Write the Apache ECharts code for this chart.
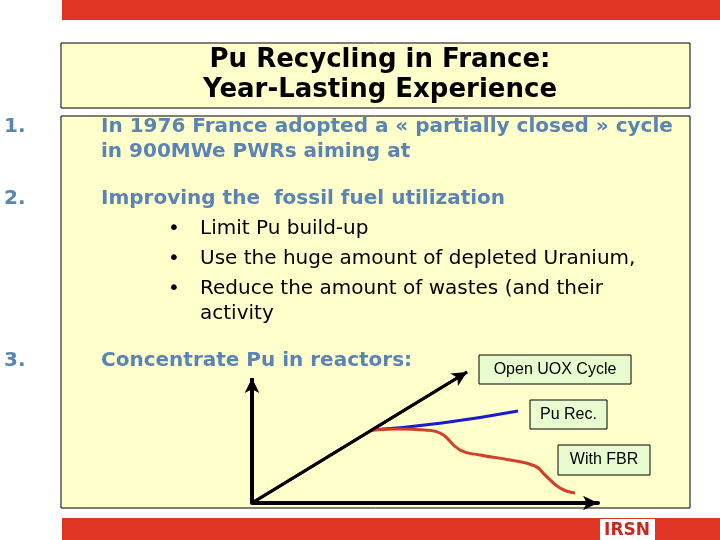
<!DOCTYPE html>
<html>
<head>
<meta charset="UTF-8">
<script src="https://cdn.jsdelivr.net/npm/echarts@6/dist/echarts.min.js"></script>
<style>html,body{margin:0;background:#fff}#main{width:720px;height:540px}</style>
</head>
<body>
<div id="main"></div>
<script>
// chart lines (x, y in axis units)
var openCycle = [[0, 0], [215, 131]];
var puRec = [[120, 73], [190, 80], [266, 92]];
var withFbr = [[120, 73], [148, 74], [173, 73], [188, 70], [208, 53], [228, 48], [258, 43], [283, 37], [293, 28], [308, 15], [323, 10]];
var yAxisTop = 125;
var titleLines = ['Pu Recycling in France:', 'Year-Lasting Experience'];

var blue = '#5a84b4';
var bodyFont = 'bold 20px "DejaVu Sans"';
var bulFont = '20px "DejaVu Sans"';

function txt(x, y, s, font, color) {
  return { type: 'text', left: x, top: y, z: 10, style: { text: s, font: font, fill: color } };
}
function box(x, y, w, h, fill) {
  return { type: 'rect', shape: { x: x, y: y, width: w, height: h }, style: { fill: fill, stroke: '#000', lineWidth: 1 }, z: 0 };
}
function label(x, y, w, h, s) {
  return [Object.assign(box(x, y, w, h, '#e8fcd0'), { z: 8 }),
    { type: 'text', x: x + w / 2, y: y + h / 2, z: 10, style: { text: s, font: '16px "Liberation Sans", Arial', fill: '#000', align: 'center', verticalAlign: 'middle' } }];
}

var g = [
  { type: 'rect', shape: { x: 62, y: 0, width: 658, height: 20 }, style: { fill: '#e03424' } },
  box(61, 43, 629, 65, '#ffffcc'),
  { type: 'text', x: 380, y: 45, z: 10, style: { text: titleLines.join('\n'), font: 'bold 26px "DejaVu Sans"', lineHeight: 30, fill: '#000', align: 'center', verticalAlign: 'top' } },
  box(61, 116, 629, 392, '#ffffcc'),
  txt(4, 117, '1.', bodyFont, blue),
  txt(101, 117, 'In 1976 France adopted a « partially closed » cycle', bodyFont, blue),
  txt(101, 142, 'in 900MWe PWRs aiming at', bodyFont, blue),
  txt(4, 189, '2.', bodyFont, blue),
  txt(101, 189, 'Improving the  fossil fuel utilization', bodyFont, blue),
  txt(168, 219, '•', bulFont, '#000'),
  txt(200, 219, 'Limit Pu build-up', bulFont, '#000'),
  txt(168, 249, '•', bulFont, '#000'),
  txt(200, 249, 'Use the huge amount of depleted Uranium,', bulFont, '#000'),
  txt(168, 279, '•', bulFont, '#000'),
  txt(200, 279, 'Reduce the amount of wastes (and their', bulFont, '#000'),
  txt(200, 304, 'activity', bulFont, '#000'),
  txt(4, 351, '3.', bodyFont, blue),
  txt(101, 351, 'Concentrate Pu in reactors:', bodyFont, blue),
  { type: 'rect', shape: { x: 62, y: 518, width: 658, height: 22 }, style: { fill: '#e03424' } },
  { type: 'rect', shape: { x: 600, y: 519, width: 55, height: 21 }, style: { fill: '#fff' }, z: 5 },
  { type: 'text', x: 627, y: 531, z: 10, style: { text: 'IRSN', font: 'bold 17px "DejaVu Sans"', fill: '#c8281e', align: 'center', verticalAlign: 'middle' } }
].concat(label(479, 355, 152, 29, 'Open UOX Cycle'), label(530, 400, 77, 29, 'Pu Rec.'), label(558, 445, 92, 30, 'With FBR'));

var chart = echarts.init(document.getElementById('main'));
chart.setOption({
  animation: false,
  graphic: g,
  grid: { left: 252, top: 368, width: 346, height: 135 },
  xAxis: { type: 'value', min: 0, max: 346, z: 6, splitLine: { show: false }, axisTick: { show: false }, axisLabel: { show: false },
    axisLine: { show: true, onZero: false, lineStyle: { color: '#000', width: 4 }, symbol: ['none', 'arrow'], symbolSize: [11, 15] } },
  yAxis: { type: 'value', min: 0, max: 135, splitLine: { show: false }, axisTick: { show: false }, axisLabel: { show: false }, axisLine: { show: false } },
  series: [
    { type: 'line', data: openCycle, symbol: 'none', lineStyle: { color: '#000', width: 3 }, z: 3,
      markLine: { silent: true, symbol: ['none', 'arrow'], symbolSize: [11, 15], label: { show: false }, lineStyle: { color: '#000', width: 3, type: 'solid' },
        data: [
          [{ coord: openCycle[0] }, { coord: openCycle[1] }],
          [{ coord: [0, 0], lineStyle: { width: 4 } }, { coord: [0, yAxisTop] }]
        ] } },
    { type: 'line', data: puRec, smooth: true, symbol: 'none', lineStyle: { color: '#1a1ad0', width: 3 }, z: 4 },
    { type: 'line', data: withFbr, smooth: true, symbol: 'none', lineStyle: { color: '#d2402a', width: 3 }, z: 4 }
  ]
});
</script>
</body>
</html>
